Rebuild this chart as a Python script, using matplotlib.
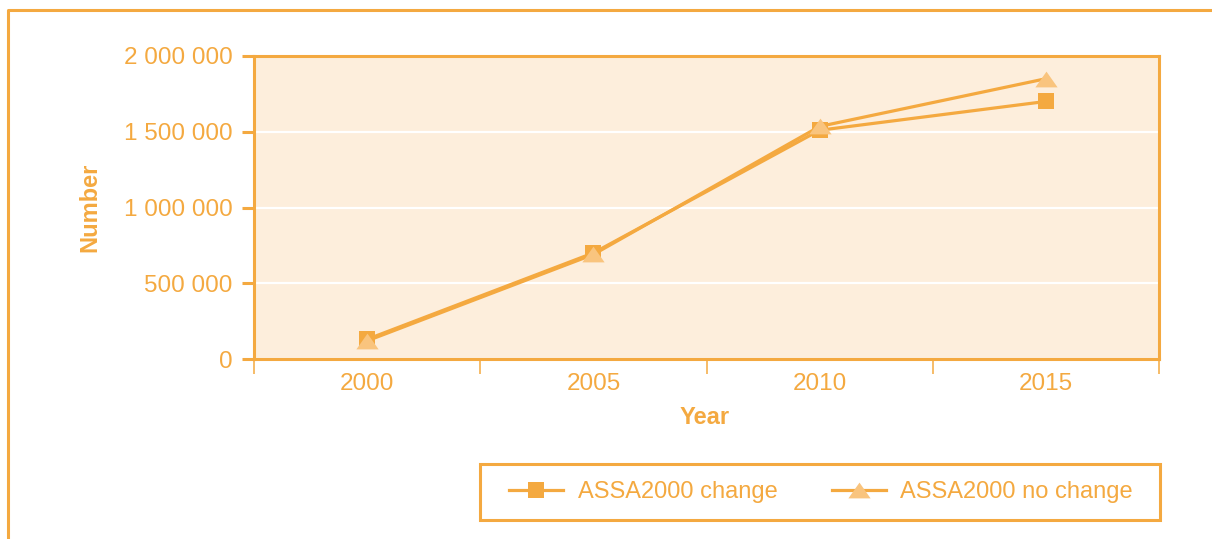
import matplotlib
matplotlib.use("Agg")
import matplotlib.pyplot as plt
from matplotlib.lines import Line2D
from matplotlib.patches import Rectangle
from matplotlib.ticker import FuncFormatter, FixedLocator

years = ["2000", "2005", "2010", "2015"]
assa_change = [130000, 700000, 1510000, 1700000]
assa_no_change = [120000, 690000, 1535000, 1850000]
y_ticks = [0, 500000, 1000000, 1500000, 2000000]

ORANGE = "#F4A940"
LIGHT = "#F9C47E"
BG = "#FDEEDC"

plt.rcParams["font.family"] = ["Liberation Sans", "DejaVu Sans"]

W, H = 1212, 539
fig = plt.figure(figsize=(W / 100, H / 100), dpi=100)
ax = fig.add_axes([254 / W, 1 - 359 / H, 905 / W, 303 / H])
ax.set_facecolor(BG)

x = list(range(len(years)))
tri = [(-1, -0.71), (1, -0.71), (0, 0.71)]

ax.plot(x, assa_change, color=ORANGE, lw=2.3, marker="s", ms=11.5,
        mfc=ORANGE, mec=ORANGE, mew=0, label="ASSA2000 change", zorder=3)
ax.plot(x, assa_no_change, color=ORANGE, lw=2.3, marker=tri, ms=16,
        mfc=LIGHT, mec=LIGHT, mew=0, label="ASSA2000 no change", zorder=4)

ax.set_xlim(-0.5, len(years) - 0.5)
ax.set_ylim(0, 2000000)
ax.set_yticks(y_ticks)
ax.yaxis.set_major_formatter(FuncFormatter(lambda v, p: f"{int(v):,}".replace(",", " ")))
ax.set_xticks(x)
ax.set_xticklabels(years)
ax.xaxis.set_minor_locator(FixedLocator([i - 0.5 for i in range(len(years) + 1)]))

ax.grid(axis="y", color="white", lw=1.6, zorder=1)
ax.set_axisbelow(True)

for s in ax.spines.values():
    s.set_color(ORANGE)
    s.set_linewidth(2.2)

ax.tick_params(axis="y", which="major", length=8.6, width=2.2, color=ORANGE,
               labelcolor=ORANGE, labelsize=17.5, pad=7)
ax.tick_params(axis="x", which="major", length=0, labelcolor=ORANGE,
               labelsize=17.5, pad=10)
ax.tick_params(axis="x", which="minor", length=11, width=1.1, color=ORANGE)

fig.text(90 / W, 1 - 207 / H, "Number", rotation=90, ha="center", va="center",
         color=ORANGE, fontsize=17, fontweight="bold")
fig.text(705 / W, 1 - 417 / H, "Year", ha="center", va="center",
         color=ORANGE, fontsize=17, fontweight="bold")

# legend box
fig.patches.append(Rectangle((480 / W, 1 - 520 / H), 680 / W, 56 / H,
                             transform=fig.transFigure, fill=False,
                             edgecolor=ORANGE, lw=2.2))
fig.legend(loc="center", bbox_to_anchor=(821 / W, 1 - 492 / H), ncol=2,
           frameon=False, fontsize=17, labelcolor=ORANGE,
           handlelength=2.3, handletextpad=0.6, columnspacing=2.3)

# outer frame (top and left edges)
fig.add_artist(Line2D([8 / W, 8 / W, 1.0], [0.0, 1 - 10 / H, 1 - 10 / H],
                      transform=fig.transFigure, color=ORANGE, lw=2.2))

fig.savefig("out.png", dpi=100)
